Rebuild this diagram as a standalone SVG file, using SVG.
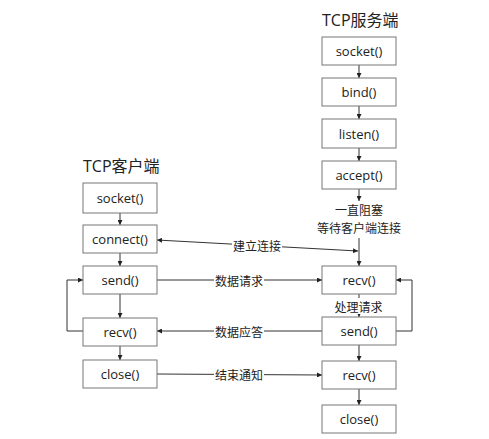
<svg xmlns="http://www.w3.org/2000/svg" width="489" height="439" viewBox="0 0 489 439">
<defs>
<marker id="ah" viewBox="0 0 6 6" refX="6" refY="3" markerWidth="5" markerHeight="5" orient="auto-start-reverse" markerUnits="userSpaceOnUse">
<path d="M0,0 L6,3 L0,6 z" fill="#222"/>
</marker>
<style>
.box{fill:#fff;stroke:#777;stroke-width:1}
.t{font-family:"Open Sans","Noto Sans CJK SC",sans-serif;font-size:13px;fill:#222;text-anchor:middle;dominant-baseline:central}
.title{font-family:"Open Sans","Noto Sans CJK SC",sans-serif;font-size:16px;fill:#222}
.lbl{font-family:"Noto Sans CJK SC",sans-serif;font-size:12px;fill:#222;text-anchor:middle;dominant-baseline:central}
.c{fill:none;stroke:#333;stroke-width:1}
.bg{fill:#fff}
</style>
</defs>
<rect width="489" height="439" fill="#fff"/>
<text class="title" x="322" y="26">TCP服务端</text>
<text class="title" x="83" y="172">TCP客户端</text>

<g id="connectors">
<line class="c" x1="359" y1="65" x2="359" y2="78" marker-end="url(#ah)"/>
<line class="c" x1="359" y1="106" x2="359" y2="119" marker-end="url(#ah)"/>
<line class="c" x1="359" y1="148" x2="359" y2="161" marker-end="url(#ah)"/>
<line class="c" x1="359" y1="189" x2="359" y2="201" marker-end="url(#ah)"/>
<line class="c" x1="359" y1="238" x2="359" y2="266" marker-end="url(#ah)"/>
<line class="c" x1="359" y1="294" x2="359" y2="317" marker-end="url(#ah)"/>
<line class="c" x1="359" y1="345" x2="359" y2="361" marker-end="url(#ah)"/>
<line class="c" x1="359" y1="389" x2="359" y2="405" marker-end="url(#ah)"/>
<polyline class="c" points="396,331 412,331 412,280 396,280" marker-end="url(#ah)"/>

<line class="c" x1="120" y1="213" x2="120" y2="225" marker-end="url(#ah)"/>
<line class="c" x1="120" y1="253" x2="120" y2="266" marker-end="url(#ah)"/>
<line class="c" x1="120" y1="294" x2="120" y2="318" marker-end="url(#ah)"/>
<line class="c" x1="120" y1="346" x2="120" y2="360" marker-end="url(#ah)"/>
<polyline class="c" points="83,331 67,331 67,280 83,280" marker-end="url(#ah)"/>

<line class="c" x1="157" y1="240" x2="358" y2="251" marker-start="url(#ah)" marker-end="url(#ah)"/>
<line class="c" x1="157" y1="280" x2="322" y2="280" marker-end="url(#ah)"/>
<line class="c" x1="322" y1="331" x2="157" y2="331" marker-end="url(#ah)"/>
<line class="c" x1="157" y1="374" x2="322" y2="375" marker-end="url(#ah)"/>

<rect class="bg" x="232" y="238" width="50" height="15"/>
<text class="lbl" x="257" y="245.5">建立连接</text>
<rect class="bg" x="214" y="273" width="50" height="15"/>
<text class="lbl" x="239" y="280">数据请求</text>
<rect class="bg" x="214" y="324" width="50" height="15"/>
<text class="lbl" x="239" y="331">数据应答</text>
<rect class="bg" x="214" y="367" width="50" height="15"/>
<text class="lbl" x="239" y="374.5">结束通知</text>
<rect class="bg" x="332" y="298" width="54" height="16"/>
<text class="lbl" x="358.5" y="306">处理请求</text>
<text class="lbl" x="359" y="209">一直阻塞</text>
<text class="lbl" x="359" y="227">等待客户端连接</text>
</g>

<g id="s_socket"><rect class="box" x="322" y="37" width="74" height="28"/><text class="t" x="359" y="51">socket()</text></g>
<g id="s_bind"><rect class="box" x="322" y="78" width="74" height="28"/><text class="t" x="359" y="92">bind()</text></g>
<g id="s_listen"><rect class="box" x="322" y="119" width="74" height="29"/><text class="t" x="359" y="133.5">listen()</text></g>
<g id="s_accept"><rect class="box" x="322" y="161" width="74" height="28"/><text class="t" x="359" y="175">accept()</text></g>
<g id="s_recv"><rect class="box" x="322" y="266" width="74" height="28"/><text class="t" x="359" y="280">recv()</text></g>
<g id="s_send"><rect class="box" x="322" y="317" width="74" height="28"/><text class="t" x="359" y="331">send()</text></g>
<g id="s_recv2"><rect class="box" x="322" y="361" width="74" height="28"/><text class="t" x="359" y="375">recv()</text></g>
<g id="s_close"><rect class="box" x="322" y="405" width="74" height="28"/><text class="t" x="359" y="419">close()</text></g>

<g id="c_socket"><rect class="box" x="83" y="183" width="74" height="30"/><text class="t" x="120" y="198">socket()</text></g>
<g id="c_connect"><rect class="box" x="83" y="225" width="74" height="28"/><text class="t" x="120" y="239">connect()</text></g>
<g id="c_send"><rect class="box" x="83" y="266" width="74" height="28"/><text class="t" x="120" y="280">send()</text></g>
<g id="c_recv"><rect class="box" x="83" y="318" width="74" height="28"/><text class="t" x="120" y="332">recv()</text></g>
<g id="c_close"><rect class="box" x="83" y="360" width="74" height="28"/><text class="t" x="120" y="374">close()</text></g>
</svg>
